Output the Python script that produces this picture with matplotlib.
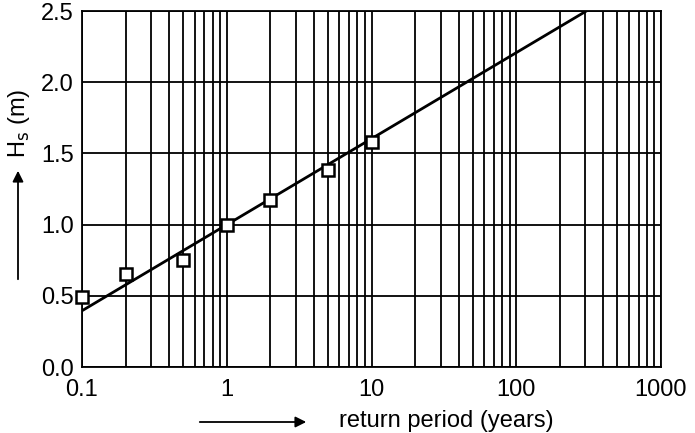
import matplotlib
matplotlib.use('Agg')
import matplotlib.pyplot as plt
from matplotlib.ticker import LogLocator, NullFormatter, FixedLocator

plt.rcParams['font.family'] = ['Liberation Sans', 'DejaVu Sans']

# data
period = [0.1, 0.2, 0.5, 1, 2, 5, 10]          # return period, years
hs = [0.49, 0.65, 0.75, 1.0, 1.17, 1.38, 1.58]  # significant wave height, m
fit_x = [0.1, 305]
fit_y = [0.395, 2.5]
xticks = [0.1, 1, 10, 100, 1000]
xticklabels = ['0.1', '1', '10', '100', '1000']
yticks = [0.0, 0.5, 1.0, 1.5, 2.0, 2.5]

fig = plt.figure(figsize=(6.95, 4.33), dpi=100)
ax = fig.add_axes([82/695, 1-367/433, (661-82)/695, (367-11)/433])

ax.plot(fit_x, fit_y, color='k', lw=2, zorder=3)
ax.plot(period, hs, ls='none', marker='s', ms=9, mfc='white', mec='k', mew=1.8, zorder=4, clip_on=False)

ax.set_xscale('log')
ax.set_xlim(0.1, 1000)
ax.set_ylim(0, 2.5)
ax.xaxis.set_major_locator(FixedLocator(xticks))
ax.set_xticklabels(xticklabels)
ax.xaxis.set_minor_locator(LogLocator(base=10, subs=range(2, 10), numticks=20))
ax.xaxis.set_minor_formatter(NullFormatter())
ax.set_yticks(yticks)
ax.set_yticklabels(['%.1f' % v for v in yticks])

ax.grid(which='both', axis='x', color='k', lw=1.3)
ax.grid(which='major', axis='y', color='k', lw=1.3)
ax.tick_params(which='both', length=0, labelsize=17)
ax.tick_params(axis='x', pad=9)
ax.tick_params(axis='y', pad=6)
for s in ax.spines.values():
    s.set_linewidth(1.3)

# axis labels with arrows
fig.text(19/695, 1-123/433, r'H$_\mathrm{s}$ (m)', rotation=90, fontsize=17, ha='center', va='center')
fig.add_artist(matplotlib.patches.FancyArrowPatch((18/695, 1-282/433), (18/695, 1-168/433),
               transform=fig.transFigure, arrowstyle='-|>', mutation_scale=16, color='k', lw=1.3))
fig.text(446/695, 1-421/433, 'return period (years)', fontsize=17, ha='center', va='center')
fig.add_artist(matplotlib.patches.FancyArrowPatch((197/695, 1-422/433), (309/695, 1-422/433),
               transform=fig.transFigure, arrowstyle='-|>', mutation_scale=16, color='k', lw=1.3))

fig.savefig('out.png', dpi=100)
